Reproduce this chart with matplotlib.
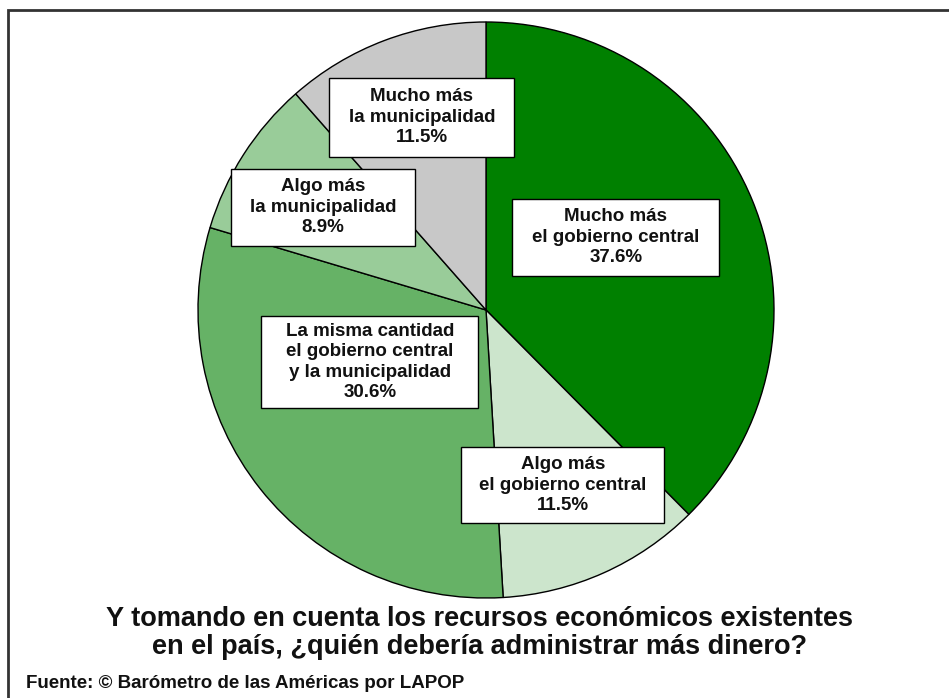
import matplotlib
matplotlib.use("Agg")
import matplotlib.pyplot as plt
from matplotlib.patches import Rectangle

# Survey answers, clockwise from the top
categories = [
    "Mucho más\nel gobierno central",
    "Algo más\nel gobierno central",
    "La misma cantidad\nel gobierno central\ny la municipalidad",
    "Algo más\nla municipalidad",
    "Mucho más\nla municipalidad",
]
values = [37.6, 11.5, 30.6, 8.9, 11.5]
colors = ["#008000", "#CCE5CC", "#66B266", "#99CC99", "#C8C8C8"]

title = ("Y tomando en cuenta los recursos económicos existentes\n"
         "en el país, ¿quién debería administrar más dinero?")
source = "Fuente: © Barómetro de las Américas por LAPOP"

W, H = 949, 698
plt.rcParams["font.family"] = ["Liberation Sans", "DejaVu Sans"]

fig = plt.figure(figsize=(W / 100, H / 100), dpi=100)
ax = fig.add_axes([0, 0, 1, 1])

cx, cy, R = 486, H - 310, 288
ax.pie(values, colors=colors, startangle=90, counterclock=False,
       center=(cx, cy), radius=R, frame=True,
       wedgeprops=dict(edgecolor="black", linewidth=1.0))
ax.set_xlim(0, W)
ax.set_ylim(0, H)
ax.set_aspect("auto")
ax.axis("off")

# label boxes: centre (px from top-left) and size
boxes = [
    (616, 237, 207, 77),
    (563, 485, 203, 76),
    (370, 362, 217, 92),
    (323, 207, 184, 77),
    (422, 117, 185, 79),
]
for cat, val, (bx, by, bw, bh) in zip(categories, values, boxes):
    yc = H - by
    ax.add_patch(Rectangle((bx - bw / 2, yc - bh / 2), bw, bh,
                           facecolor="white", edgecolor="black",
                           linewidth=1.0, zorder=5))
    ax.text(bx, yc, f"{cat}\n{val:.1f}%", ha="center", va="center",
            fontsize=13.5, fontweight="bold", linespacing=1.25,
            zorder=6, color="#111111")

ax.text(480, H - 633, title, ha="center", va="center", fontsize=19.5,
        fontweight="bold", linespacing=1.15, color="#111111")
ax.text(26, H - 683, source, ha="left", va="center", fontsize=13.5,
        fontweight="bold", color="#111111")

# outer frame, running off the right and bottom edges
ax.add_patch(Rectangle((8, -20), W + 20, H - 10 + 20, facecolor="none",
                       edgecolor="#333333", linewidth=2, zorder=10,
                       clip_on=False))

fig.savefig("out.png", dpi=100)
